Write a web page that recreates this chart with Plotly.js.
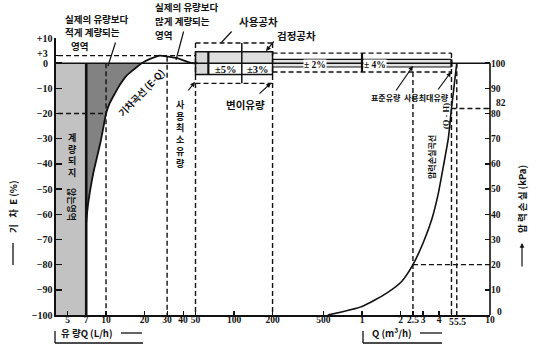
<!DOCTYPE html>
<html><head><meta charset="utf-8">
<script src="https://cdn.plot.ly/plotly-3.0.1.min.js"></script>
<style>html,body{margin:0;padding:0;background:#fff}#chart{width:537px;height:350px}</style>
</head><body><div id="chart"></div>
<script>
// ---- data ----
const flowTicks = [5,7,10,20,30,40,50,100,200,500,1000,2000,2500,3000,4000,5000,5500,10000];
const flowTickText = ['5','7','10','20','30','40','50','100','200','500','1','2','2.5','3','4','','','10'];
const errorTicks = [10,3,0,-10,-20,-30,-40,-50,-60,-70,-80,-90,-100];
const errorTickText = ['+10','','','−10','−20','−30','−40','−50','−60','−70','−80','−90','−100'];
const lossTicks = [0,10,20,30,40,50,60,70,80,82,90,100];
const lossTickText = ['','10','20','30','40','50','60','70','80','','90','100'];

// error curve (E-Q): flow L/h, error %
const eqFlow  = [7.0, 7.23, 7.57, 7.99, 8.51, 9.06, 9.55, 10.0, 10.7, 11.8, 12.9, 14.3, 16.3, 19.0, 22.1, 26.4, 30.5, 35.9, 41.4, 47.0, 52];
const eqError = [-63.0,-56.2,-49.5,-43.1,-37.2,-31.2,-25.3,-20.0,-15.8,-11.8,-8.4,-5.2,-2.7, 0, 1.7, 3.0, 2.6, 2.0, 0.9, 0, 0];
// pressure loss curve (Q-H): flow L/h, loss kPa
const hqFlow = [540, 1000, 1560, 2040, 2500, 3000, 3500, 3950, 4320, 4720, 5000, 5500];
const hqLoss = [0, 3.4, 8.7, 13.3, 20, 28.6, 37.8, 48.4, 59, 70, 82, 100];

const startFlow = 7;             // 계량되지 않는 영역 limit
const noisePoint = [10, -20];    // curve at -20 %
const minFlow = 30;              // 사용최소유량
const peakError = 3;             // +3 line
const zone1Flow = [50, 63, 115, 200];   // 1st tolerance zone divisions
const zone1Usage = 8, zone1Verif = 4.5;
const zone2Flow = [200, 1000, 5000];    // 2nd tolerance zone
const zone2Usage = [4, -3.5], zone2Verif = 1.5;
const standardFlow = 2500, maxFlow = 5000, overFlow = 5500;
const lossMarks = [20, 82];

// ---- helpers ----
const FAR_L = 1, FAR_R = 30000;
const BLK = '#111';
const traces = [];
function seg(xs, ys, w, dash, y2) {
  traces.push({type:'scatter', mode:'lines', x:xs, y:ys, yaxis: y2 ? 'y2' : 'y',
    hoverinfo:'skip', showlegend:false, line:{color:BLK, width:w||1.4, dash:dash||'solid'}});
}
function fillPoly(xs, ys, color) {
  traces.push({type:'scatter', mode:'lines', x:xs, y:ys, fill:'toself', fillcolor:color,
    hoverinfo:'skip', showlegend:false, line:{width:0, color:color}});
}
const DASH = '5px,3px';

// fills
fillPoly([FAR_L, startFlow, startFlow, FAR_L], [0, 0, -100, -100], '#c2c2c2');
const iz = eqError.indexOf(0);
fillPoly([startFlow].concat(eqFlow.slice(0, iz+1)), [0].concat(eqError.slice(0, iz+1)), '#828282');
fillPoly([zone1Flow[0], zone1Flow[1], zone1Flow[1], zone1Flow[0]], [zone1Verif, zone1Verif, -zone1Verif, -zone1Verif], '#d9d9d9');
fillPoly([zone1Flow[1], zone1Flow[3], zone1Flow[3], zone1Flow[1]], [zone1Verif, zone1Verif, 0, 0], '#dedede');
fillPoly([zone2Flow[0], zone2Flow[2], zone2Flow[2], zone2Flow[0]], [zone2Verif, zone2Verif, -zone2Verif, -zone2Verif], '#e2e2e2');

// reference lines
seg([FAR_L, FAR_R], [0, 0], 1.6);
seg([startFlow, startFlow], [0, -100], 2.6);
seg([FAR_L, zone1Flow[0]], [peakError, peakError], 1.4, DASH);
seg([FAR_L, noisePoint[0]], [noisePoint[1], noisePoint[1]], 1.6, DASH);
seg([noisePoint[0], noisePoint[0]], [0, -100], 1.4, DASH);
seg([minFlow, minFlow], [2.6, -100], 1.4, DASH);
seg([zone1Flow[0], zone1Flow[0]], [zone1Usage, -100], 1.4, DASH);
seg([zone1Flow[3], zone1Flow[3]], [zone1Usage, -100], 1.4, DASH);
seg([zone1Flow[0], zone1Flow[3]], [zone1Usage, zone1Usage], 1.4, DASH);
seg([zone1Flow[0], zone1Flow[3]], [-zone1Usage, -zone1Usage], 1.4, DASH);
seg([zone2Flow[0], zone2Flow[2]], [zone2Usage[0], zone2Usage[0]], 1.4, DASH);
seg([zone2Flow[0], zone2Flow[2]], [zone2Usage[1], zone2Usage[1]], 1.4, DASH);
seg([maxFlow, maxFlow], [zone2Usage[0], -100], 1.4, DASH);
seg([overFlow, overFlow], [0, -100], 1.4, DASH);
seg([standardFlow, standardFlow], [zone2Usage[1], -100], 1.4, DASH);
// verification boxes
seg([zone1Flow[0], zone1Flow[3], zone1Flow[3], zone1Flow[0], zone1Flow[0]], [zone1Verif, zone1Verif, -zone1Verif, -zone1Verif, zone1Verif], 1.5);
seg([zone1Flow[1], zone1Flow[1]], [zone1Verif, -zone1Verif], 2.2);
seg([zone1Flow[2], zone1Flow[2]], [zone1Usage, -zone1Usage], 1.5);
seg([zone2Flow[0], zone2Flow[2]], [zone2Verif, zone2Verif], 1.1);
seg([zone2Flow[0], zone2Flow[2]], [-zone2Verif, -zone2Verif], 1.1);
seg([zone2Flow[1], zone2Flow[1]], [zone2Usage[0], zone2Usage[1]], 2.2);
seg([zone2Flow[2], zone2Flow[2]], [zone2Verif, -zone2Verif], 2.2);
// pressure loss marks
seg([standardFlow, FAR_R], [lossMarks[0], lossMarks[0]], 1.4, DASH, true);
seg([maxFlow, FAR_R], [lossMarks[1], lossMarks[1]], 1.4, DASH, true);
// curves
traces.push({type:'scatter', mode:'lines', x:eqFlow, y:eqError, hoverinfo:'skip', showlegend:false,
  line:{color:BLK, width:1.8, shape:'spline', smoothing:0.6}});
traces.push({type:'scatter', mode:'lines', x:hqFlow, y:hqLoss, yaxis:'y2', hoverinfo:'skip', showlegend:false,
  line:{color:BLK, width:1.6, shape:'spline', smoothing:0.6}});

// ---- layout ----
const L = 56, T = 38, W = 434, H = 277;
const PX = x => (x - L) / W, PY = y => (T + H - y) / H;
const KR = 'Noto Sans CJK KR', SERIF = 'Liberation Serif';
const anns = [];
function txt(t, x, y, size, opt) {
  opt = opt || {};
  anns.push(Object.assign({text:t, xref:'paper', yref:'paper', x:PX(x), y:PY(y), showarrow:false,
    xanchor: opt.xa || 'center', yanchor:'middle', textangle: opt.ang || 0, align: opt.xa || 'center',
    font:{family: opt.fam || KR, size:size, color:BLK, weight: 'bold'}}, opt.extra || {}));
}
function arrow(hx, hy, tx, ty, head) {
  anns.push({text:'', xref:'paper', yref:'paper', x:PX(hx), y:PY(hy), ax: tx - hx, ay: ty - hy,
    showarrow:true, arrowhead: head ? 2 : 0, arrowsize: 0.8, arrowwidth: 1.2, arrowcolor: BLK, standoff:0, startstandoff:0});
}
txt('실제의 유량보다', 63, 18.7, 9.5, {xa:'left'});
txt('적게 계량되는', 63, 32.5, 9.5, {xa:'left'});
txt('영역', 69, 46.3, 9.5, {xa:'left'});
txt('실제의 유량보다', 153, 7.5, 9.5, {xa:'left'});
txt('많게 계량되는', 153, 21.3, 9.5, {xa:'left'});
txt('영역', 153, 35.1, 9.5, {xa:'left'});
txt('사용공차', 258, 21.5, 10.5);
txt('검정공차', 296, 36, 10.5);
txt('±5%', 226, 69, 10.5, {fam:SERIF});
txt('±3%', 258, 69, 10.5, {fam:SERIF});
txt('± 2%', 315, 64.5, 9.5, {fam:SERIF, extra:{bgcolor:'#fff', borderpad:0}});
txt('± 4%', 375, 64.5, 9.5, {fam:SERIF, extra:{bgcolor:'#fff', borderpad:0}});
txt('변이유량', 245, 104, 10.5);
txt('사<br>용<br>최<br>소<br>유<br>량', 180, 134, 9);
txt('계<br>량<br>되<br>지', 72, 155, 9);
txt('않는영역', 72, 204, 9, {ang:90});
txt('기차곡선 (E-Q)', 141, 93, 9.5, {ang:-46});
txt('표준유량', 386, 97, 8);
txt('사용최대유량', 426, 97, 8);
txt('압력손실곡선', 431, 157, 8, {ang:-90});
txt('(Q - H)', 446, 116, 8.5, {ang:-90, fam:SERIF});
txt('압 력 손 실 (kPa)', 522, 199, 9.5, {ang:-90});
txt('기   차  E (%)', 13, 207, 9.5, {ang:-90});
txt('유 량Q (L/h)', 59, 333, 9.5, {xa:'left'});
txt('Q (m³/h)', 370, 333, 9.5, {xa:'left'});
txt('5', 451, 322, 9.5, {fam:SERIF});
txt('5.5', 460, 322, 9.5, {fam:SERIF});
txt('82', 494, 102.5, 9.5, {fam:SERIF, xa:'left'});
txt('0', 495, 311.5, 9.5, {fam:SERIF, xa:'left'});
txt('+3', 50, 53, 10, {fam:SERIF, xa:'right'});
txt('0', 50, 63.8, 10, {fam:SERIF, xa:'right'});

arrow(108, 66, 116, 41, false);
arrow(176, 60, 184, 30, false);
arrow(221, 43, 233, 30, false);
arrow(266, 51, 275, 40, true);
arrow(271, 83, 258, 95, true);
arrow(195, 82, 187, 92, true);
arrow(413, 66, 395, 92, true);
arrow(451, 72, 437, 91, true);
arrow(522, 243, 522, 268, true);

const pl = (x0,y0,x1,y1,w) => ({type:'line', xref:'paper', yref:'paper', x0:PX(x0), y0:PY(y0), x1:PX(x1), y1:PY(y1), line:{color:BLK, width:w||1.3}});
const shapes = [
  {type:'line', xref:'paper', yref:'y2', x0:1, x1:1, y0:0, y1:100, line:{color:BLK, width:1.6}},
  pl(55, 331, 55, 343), pl(55, 343, 143, 343),
  pl(121, 333, 142, 333),
  pl(363, 331, 363, 343), pl(363, 343, 442, 343),
  pl(420, 333, 442, 333),
  pl(13, 243, 13, 265)
];

const tickFont = {family:SERIF, size:9.5, color:BLK, weight:'bold'};
const layout = {
  width:537, height:350, margin:{l:L, r:537-L-W, t:T, b:350-T-H},
  paper_bgcolor:'#fff', plot_bgcolor:'rgba(0,0,0,0)', showlegend:false,
  xaxis:{type:'log', range:[0.609, 4.0], tickvals:flowTicks, ticktext:flowTickText, tickangle:0,
    ticks:'inside', ticklen:4, tickwidth:1.2, tickcolor:BLK, showline:true, linewidth:1.6, linecolor:BLK,
    ticklabelstandoff:-5,
    showgrid:false, zeroline:false, tickfont:tickFont, fixedrange:true},
  yaxis:{range:[-100, 10], tickvals:errorTicks, ticktext:errorTickText, ticks:'inside', ticklen:6,
    tickwidth:1.4, tickcolor:BLK, showline:true, linewidth:1.6, linecolor:BLK, showgrid:false, zeroline:false,
    tickfont:Object.assign({}, tickFont, {size:10}), fixedrange:true},
  yaxis2:{overlaying:'y', side:'right', range:[0, 110], tickvals:lossTicks, ticktext:lossTickText, ticks:'inside', ticklen:5,
    tickwidth:1.4, tickcolor:BLK, showline:false, showgrid:false, zeroline:false, tickfont:tickFont, fixedrange:true},
  annotations:anns, shapes:shapes
};
Plotly.newPlot('chart', traces, layout, {staticPlot:true, displayModeBar:false});
</script></body></html>
